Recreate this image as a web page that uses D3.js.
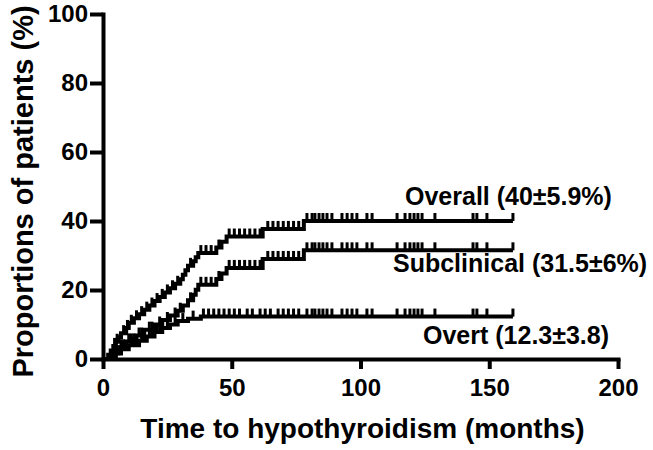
<!DOCTYPE html>
<html><head><meta charset="utf-8">
<script src="https://cdn.jsdelivr.net/npm/d3@7"></script>
<style>
body{margin:0;background:#fff}
svg{display:block}
text{font-family:"Liberation Sans",Arial,sans-serif;font-weight:bold;fill:#000}
</style>
</head><body>
<svg id="chart" width="653" height="450"></svg>
<script>
// ---- data ----
const xTicks = [0, 50, 100, 150, 200];
const yTicks = [0, 20, 40, 60, 80, 100];
const xTitle = "Time to hypothyroidism (months)";
const yTitle = "Proportions of patients (%)";

const overallTimes  = [2, 3, 4, 5, 6, 7, 9, 10, 12, 14, 16, 18, 20, 22, 24, 26, 28, 30, 31, 32, 33, 35, 36, 37, 44, 46, 48, 62, 78];
const overallLevels = [1.2, 2.5, 3.8, 5.0, 6.3, 7.5, 9.0, 10.5, 11.8, 13.0, 14.3, 15.5, 16.8, 18.0, 19.3, 20.5, 21.8, 23.1, 24.4, 25.7, 27.0, 28.3, 29.5, 30.7, 32.3, 34.0, 35.5, 37.7, 40.0];
const overallCensor = [4.5, 5.5, 8, 9.5, 11, 13, 15, 17, 19, 21, 23, 25, 27, 29, 34, 38, 40, 42, 45, 49, 51, 53, 55, 57, 59, 61, 64, 66, 68, 70, 72, 74, 76, 79.2, 81.2, 82.3, 83.9, 85.4, 87, 88.9, 92.8, 94.8, 96.7, 98.6, 102.5, 104.5, 114.2, 117.3, 119.2, 120.8, 122.3, 123.9, 128.9, 143.7, 145.2, 149.1, 159.2];

const subTimes  = [3, 4, 6, 9, 13, 16, 20, 23, 26, 29, 31, 33, 35, 36, 37, 44, 46, 48, 62, 78];
const subLevels = [0.9, 1.7, 3.4, 5.1, 6.8, 8.5, 10.0, 11.3, 12.6, 14.0, 15.5, 17.0, 18.6, 20.1, 21.5, 23.2, 24.8, 26.4, 29.0, 31.5];
const subCensor = [5, 7, 8, 10, 11, 12, 14, 15, 18, 19, 22, 25, 28, 30, 34, 38, 40, 42, 45, 49, 51, 53, 55, 57, 59, 61, 64, 66, 68, 70, 72, 74, 76, 79.2, 81.2, 82.3, 83.9, 85.4, 87, 88.9, 92.8, 94.8, 96.7, 98.6, 102.5, 104.5, 114.2, 117.3, 119.2, 120.8, 122.3, 123.9, 128.9, 143.7, 145.2, 149.1, 159.2];

const overtTimes  = [4, 5, 7, 10, 14, 17, 20, 23, 26, 29, 33, 38];
const overtLevels = [0.8, 1.6, 2.8, 4.0, 5.3, 6.5, 7.8, 9.0, 10.0, 11.0, 11.7, 12.3];
const overtCensor = [6, 8, 9, 11, 12, 13, 15, 16, 18, 19, 21, 22, 25, 28, 31, 35, 39, 41, 43, 45, 47, 49, 51, 53, 56, 58, 61, 63, 65, 68, 70, 72, 74, 76, 79.2, 81.2, 82.3, 83.9, 85.4, 87, 88.9, 92.8, 94.8, 96.7, 98.6, 102.5, 104.5, 114.2, 117.3, 119.2, 120.8, 122.3, 123.9, 128.9, 143.7, 145.2, 149.1, 159.2];

const seriesNames = ["Overall (40\u00B15.9%)", "Subclinical (31.5\u00B16%)", "Overt (12.3\u00B13.8)"];

// ---- build ----
const series = [
  {times: overallTimes, levels: overallLevels, censor: overallCensor, name: seriesNames[0], lx: 405, ly: 205},
  {times: subTimes, levels: subLevels, censor: subCensor, name: seriesNames[1], lx: 393, ly: 272},
  {times: overtTimes, levels: overtLevels, censor: overtCensor, name: seriesNames[2], lx: 423, ly: 344}
];

const svg = d3.select("#chart");
const x = d3.scaleLinear().domain([0, 200]).range([103, 618]);
const y = d3.scaleLinear().domain([0, 100]).range([359, 14]);

function levelAt(s, t) {
  let v = 0;
  s.times.forEach((tt, i) => { if (tt <= t) v = s.levels[i]; });
  return v;
}

const line = d3.line().x(d => x(d[0])).y(d => y(d[1])).curve(d3.curveStepAfter);

series.forEach(s => {
  const end = d3.max(s.censor);
  const pts = [[0, 0]].concat(s.times.map((t, i) => [t, s.levels[i]]));
  pts.push([end, s.levels[s.levels.length - 1]]);
  svg.append("path").attr("d", line(pts))
    .attr("fill", "none").attr("stroke", "#000").attr("stroke-width", 4)
    .attr("stroke-linejoin", "miter").attr("stroke-linecap", "butt");
  svg.append("g").selectAll("line").data(s.censor).join("line")
    .attr("x1", d => x(d)).attr("x2", d => x(d))
    .attr("y1", d => y(levelAt(s, d)))
    .attr("y2", d => y(levelAt(s, d)) - 8)
    .attr("stroke", "#000").attr("stroke-width", 3);
  svg.append("text").attr("x", s.lx).attr("y", s.ly)
    .attr("font-size", 25).text(s.name);
});

// axes
const xAxis = svg.append("g").attr("transform", `translate(0,${y(0)})`)
  .call(d3.axisBottom(x).tickValues(xTicks).tickSize(10).tickSizeOuter(0).tickPadding(10));
const yAxis = svg.append("g").attr("transform", `translate(${x(0)},0)`)
  .call(d3.axisLeft(y).tickValues(yTicks).tickSize(13).tickSizeOuter(0).tickPadding(2));
[xAxis, yAxis].forEach(g => {
  g.select(".domain").attr("stroke", "#000").attr("stroke-width", 4).attr("stroke-linecap", "square");
  g.selectAll(".tick line").attr("stroke", "#000").attr("stroke-width", 4);
  g.selectAll(".tick text").attr("font-size", 24).attr("font-family", "Liberation Sans, Arial, sans-serif").attr("font-weight", "bold").attr("fill", "#000");
});

svg.append("text").attr("x", (x(0) + x(200)) / 2 + 2).attr("y", 438)
  .attr("text-anchor", "middle").attr("font-size", 28).text(xTitle);
svg.append("text").attr("transform", `translate(33,${(y(0) + y(100)) / 2 + 5}) rotate(-90)`)
  .attr("text-anchor", "middle").attr("font-size", 29).text(yTitle);
</script>
</body></html>
